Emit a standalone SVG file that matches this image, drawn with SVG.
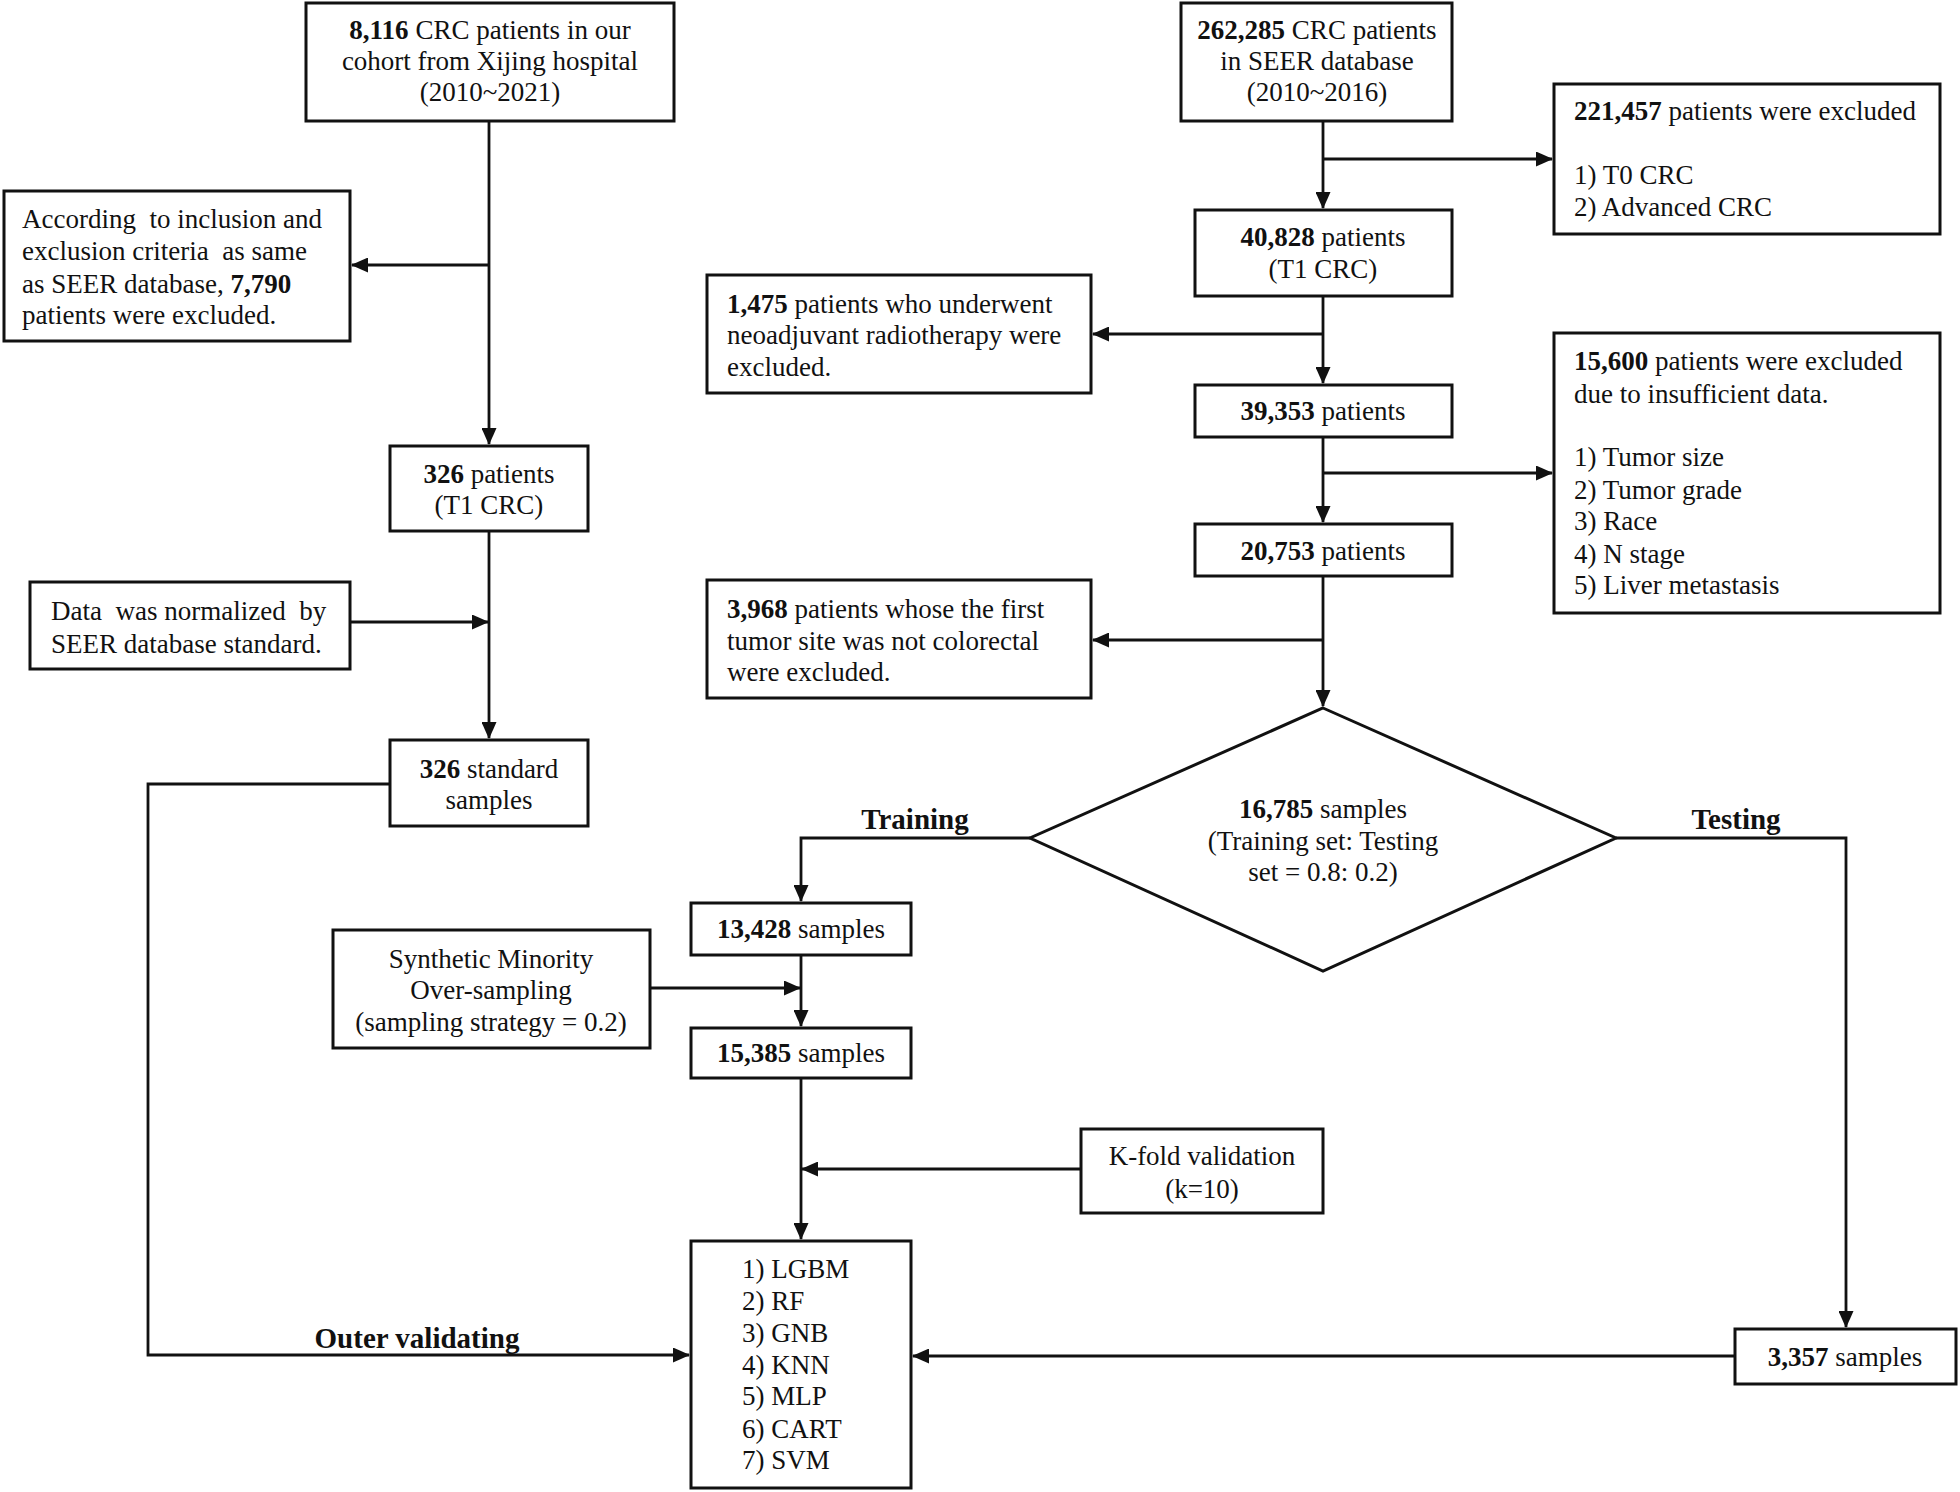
<svg xmlns="http://www.w3.org/2000/svg" width="1960" height="1492" viewBox="0 0 1960 1492">
<style>
  .box { fill: #fff; stroke: #111; stroke-width: 3; }
  .t { font-family: "Liberation Serif", "Times New Roman", serif; font-size: 27px; fill: #111; }
  .c { text-anchor: middle; }
  .b { font-weight: bold; }
  .lbl { font-size: 29px; }
  .ln { fill: none; stroke: #111; stroke-width: 2.8; }
</style>
<defs>
  <marker id="ah" markerUnits="userSpaceOnUse" markerWidth="17" markerHeight="15" viewBox="0 0 17 15" refX="16" refY="7.5" orient="auto">
    <path d="M0,0 L17,7.5 L0,15 z" fill="#111"/>
  </marker>
</defs>
<rect width="1960" height="1492" fill="#fff"/>

<g id="connectors">
  <path class="ln" d="M489,121 V444" marker-end="url(#ah)"/>
  <path class="ln" d="M489,265 H352" marker-end="url(#ah)"/>
  <path class="ln" d="M489,531 V738" marker-end="url(#ah)"/>
  <path class="ln" d="M350,622 H488" marker-end="url(#ah)"/>
  <path class="ln" d="M390,784 H148 V1355 H689" marker-end="url(#ah)"/>
  <path class="ln" d="M1323,121 V208" marker-end="url(#ah)"/>
  <path class="ln" d="M1323,159 H1552" marker-end="url(#ah)"/>
  <path class="ln" d="M1323,296 V383" marker-end="url(#ah)"/>
  <path class="ln" d="M1323,334 H1093" marker-end="url(#ah)"/>
  <path class="ln" d="M1323,437 V522" marker-end="url(#ah)"/>
  <path class="ln" d="M1323,473 H1552" marker-end="url(#ah)"/>
  <path class="ln" d="M1323,576 V706" marker-end="url(#ah)"/>
  <path class="ln" d="M1323,640 H1093" marker-end="url(#ah)"/>
  <path class="ln" d="M1030,838 H801 V901" marker-end="url(#ah)"/>
  <path class="ln" d="M1616,838 H1846 V1327" marker-end="url(#ah)"/>
  <path class="ln" d="M801,955 V1026" marker-end="url(#ah)"/>
  <path class="ln" d="M650,988 H800" marker-end="url(#ah)"/>
  <path class="ln" d="M801,1078 V1239" marker-end="url(#ah)"/>
  <path class="ln" d="M1081,1169 H802" marker-end="url(#ah)"/>
  <path class="ln" d="M1735,1356 H913" marker-end="url(#ah)"/>
  <text class="t lbl b c" x="915" y="829">Training</text>
  <text class="t lbl b c" x="1736" y="829">Testing</text>
  <text class="t lbl b c" x="417" y="1348">Outer validating</text>
</g>

<g id="nodeA">
  <rect class="box" x="306" y="3" width="368" height="118"/>
  <text class="t c" x="490" y="39"><tspan class="b">8,116</tspan> CRC patients in our</text>
  <text class="t c" x="490" y="70">cohort from Xijing hospital</text>
  <text class="t c" x="490" y="101">(2010~2021)</text>
</g>
<g id="nodeB">
  <rect class="box" x="4" y="191" width="346" height="150"/>
  <text class="t" x="22" y="228" xml:space="preserve">According  to inclusion and</text>
  <text class="t" x="22" y="260" xml:space="preserve">exclusion criteria  as same</text>
  <text class="t" x="22" y="293">as SEER database, <tspan class="b">7,790</tspan></text>
  <text class="t" x="22" y="324">patients were excluded.</text>
</g>
<g id="nodeC">
  <rect class="box" x="390" y="446" width="198" height="85"/>
  <text class="t c" x="489" y="483"><tspan class="b">326</tspan> patients</text>
  <text class="t c" x="489" y="514">(T1 CRC)</text>
</g>
<g id="nodeE">
  <rect class="box" x="30" y="582" width="320" height="87"/>
  <text class="t" x="51" y="620" xml:space="preserve">Data  was normalized  by</text>
  <text class="t" x="51" y="653">SEER database standard.</text>
</g>
<g id="nodeD">
  <rect class="box" x="390" y="740" width="198" height="86"/>
  <text class="t c" x="489" y="778"><tspan class="b">326</tspan> standard</text>
  <text class="t c" x="489" y="809">samples</text>
</g>

<g id="nodeF">
  <rect class="box" x="1181" y="3" width="271" height="118"/>
  <text class="t c" x="1317" y="39"><tspan class="b">262,285</tspan> CRC patients</text>
  <text class="t c" x="1317" y="70">in SEER database</text>
  <text class="t c" x="1317" y="101">(2010~2016)</text>
</g>
<g id="nodeG">
  <rect class="box" x="1554" y="84" width="386" height="150"/>
  <text class="t" x="1574" y="120"><tspan class="b">221,457</tspan> patients were excluded</text>
  <text class="t" x="1574" y="184">1) T0 CRC</text>
  <text class="t" x="1574" y="216">2) Advanced CRC</text>
</g>
<g id="nodeH">
  <rect class="box" x="1195" y="210" width="257" height="86"/>
  <text class="t c" x="1323" y="246"><tspan class="b">40,828</tspan> patients</text>
  <text class="t c" x="1323" y="278">(T1 CRC)</text>
</g>
<g id="nodeI">
  <rect class="box" x="707" y="275" width="384" height="118"/>
  <text class="t" x="727" y="313"><tspan class="b">1,475</tspan> patients who underwent</text>
  <text class="t" x="727" y="344">neoadjuvant radiotherapy were</text>
  <text class="t" x="727" y="376">excluded.</text>
</g>
<g id="nodeJ">
  <rect class="box" x="1195" y="385" width="257" height="52"/>
  <text class="t c" x="1323" y="420"><tspan class="b">39,353</tspan> patients</text>
</g>
<g id="nodeL">
  <rect class="box" x="1554" y="333" width="386" height="280"/>
  <text class="t" x="1574" y="370"><tspan class="b">15,600</tspan> patients were excluded</text>
  <text class="t" x="1574" y="403">due to insufficient data.</text>
  <text class="t" x="1574" y="466">1) Tumor size</text>
  <text class="t" x="1574" y="499">2) Tumor grade</text>
  <text class="t" x="1574" y="530">3) Race</text>
  <text class="t" x="1574" y="563">4) N stage</text>
  <text class="t" x="1574" y="594">5) Liver metastasis</text>
</g>
<g id="nodeK">
  <rect class="box" x="1195" y="524" width="257" height="52"/>
  <text class="t c" x="1323" y="560"><tspan class="b">20,753</tspan> patients</text>
</g>
<g id="nodeM">
  <rect class="box" x="707" y="580" width="384" height="118"/>
  <text class="t" x="727" y="618"><tspan class="b">3,968</tspan> patients whose the first</text>
  <text class="t" x="727" y="650">tumor site was not colorectal</text>
  <text class="t" x="727" y="681">were excluded.</text>
</g>
<g id="nodeDiamond">
  <polygon class="box" points="1323,708 1616,838 1323,971 1030,838"/>
  <text class="t c" x="1323" y="818"><tspan class="b">16,785</tspan> samples</text>
  <text class="t c" x="1323" y="850">(Training set: Testing</text>
  <text class="t c" x="1323" y="881">set = 0.8: 0.2)</text>
</g>
<g id="nodeN">
  <rect class="box" x="691" y="903" width="220" height="52"/>
  <text class="t c" x="801" y="938"><tspan class="b">13,428</tspan> samples</text>
</g>
<g id="nodeP">
  <rect class="box" x="333" y="930" width="317" height="118"/>
  <text class="t c" x="491" y="968">Synthetic Minority</text>
  <text class="t c" x="491" y="999">Over-sampling</text>
  <text class="t c" x="491" y="1031">(sampling strategy = 0.2)</text>
</g>
<g id="nodeO">
  <rect class="box" x="691" y="1028" width="220" height="50"/>
  <text class="t c" x="801" y="1062"><tspan class="b">15,385</tspan> samples</text>
</g>
<g id="nodeS">
  <rect class="box" x="1081" y="1129" width="242" height="84"/>
  <text class="t c" x="1202" y="1165">K-fold validation</text>
  <text class="t c" x="1202" y="1198">(k=10)</text>
</g>
<g id="nodeQ">
  <rect class="box" x="691" y="1241" width="220" height="247"/>
  <text class="t" x="742" y="1278">1) LGBM</text>
  <text class="t" x="742" y="1310">2) RF</text>
  <text class="t" x="742" y="1342">3) GNB</text>
  <text class="t" x="742" y="1374">4) KNN</text>
  <text class="t" x="742" y="1405">5) MLP</text>
  <text class="t" x="742" y="1438">6) CART</text>
  <text class="t" x="742" y="1469">7) SVM</text>
</g>
<g id="nodeR">
  <rect class="box" x="1735" y="1329" width="221" height="55"/>
  <text class="t c" x="1845" y="1366"><tspan class="b">3,357</tspan> samples</text>
</g>
</svg>
